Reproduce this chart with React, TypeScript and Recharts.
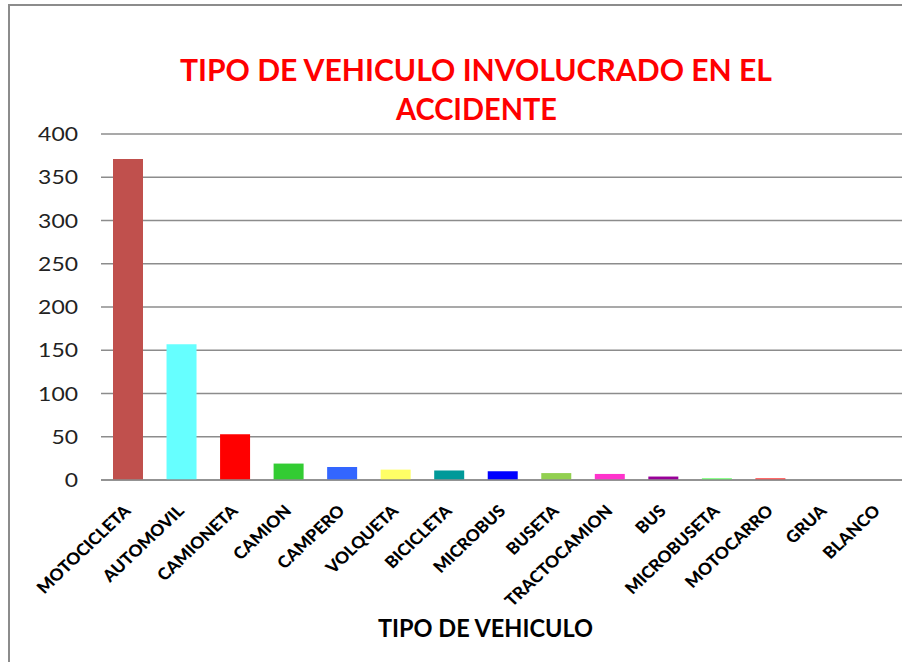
import React from 'react';
import { BarChart, Bar, XAxis, YAxis, CartesianGrid, Cell } from 'recharts';

const categories = ['MOTOCICLETA', 'AUTOMOVIL', 'CAMIONETA', 'CAMION', 'CAMPERO', 'VOLQUETA', 'BICICLETA', 'MICROBUS', 'BUSETA', 'TRACTOCAMION', 'BUS', 'MICROBUSETA', 'MOTOCARRO', 'GRUA', 'BLANCO'];
const values = [371, 157, 53, 19, 15, 12, 11, 10, 8, 7, 4, 2, 2, 0, 0];
const colors = ['#C0504D', '#66FFFF', '#FF0000', '#33CC33', '#3366FF', '#FFFF66', '#009999', '#0000FF', '#92D050', '#FF33CC', '#990099', '#66FF66', '#FF3333', '#808080', '#808080'];
const yTicks = [0, 50, 100, 150, 200, 250, 300, 350, 400];
const titleLines = ['TIPO DE VEHICULO INVOLUCRADO EN EL', 'ACCIDENTE'];
const xTitle = 'TIPO DE VEHICULO';

const data = categories.map((name, i) => ({ name, value: values[i] }));

const XTick = (props: any) => {
  const { x, y, payload } = props;
  return (
    <g transform={`translate(${x + 4},${y + 24}) scale(1.06,1) rotate(-45)`}>
      <text x={0} y={0} textAnchor="end" fontFamily="Lato" fontWeight="900" fontSize={16.5} fill="#000">
        {payload.value}
      </text>
    </g>
  );
};

const YTick = (props: any) => {
  const { x, y, payload } = props;
  return (
    <g transform={`translate(${x},${y + 7}) scale(1.24,1)`}>
      <text x={0} y={0} textAnchor="end" fontFamily="Lato" fontSize={18.5} fill="#222">
        {payload.value}
      </text>
    </g>
  );
};

export default function App() {
  return (
    <div style={{ position: 'absolute', left: 0, top: 0, width: 902, height: 662, overflow: 'hidden', background: '#fff' }}>
      <div style={{ position: 'absolute', left: 8, top: 4, width: 920, height: 700, borderLeft: '2px solid #8c8c8c', borderTop: '2px solid #8c8c8c' }} />
      <div style={{ position: 'absolute', left: 0, top: 0 }}>
        <BarChart width={904} height={662} data={data} margin={{ top: 134, right: 0, bottom: 32, left: 0 }}>
          <CartesianGrid horizontal vertical={false} stroke="#8c8c8c" strokeWidth={1.5} />
          <XAxis dataKey="name" interval={0} height={150} tickLine={false} axisLine={{ stroke: '#8c8c8c', strokeWidth: 1.5 }} tick={<XTick />} />
          <YAxis width={101} domain={[0, 400]} ticks={yTicks} tickLine={false} axisLine={false} tickMargin={17} tick={<YTick />} />
          <Bar dataKey="value" barSize={30} isAnimationActive={false}>
            {data.map((d, i) => (
              <Cell key={d.name} fill={colors[i]} />
            ))}
          </Bar>
        </BarChart>
      </div>
      <svg width={902} height={662} style={{ position: 'absolute', left: 0, top: 0, pointerEvents: 'none' }}>
        <text x={476} y={81} textAnchor="middle" fontFamily="Lato" fontWeight="bold" fontSize={30} fill="#FF0000" textLength={592} lengthAdjust="spacingAndGlyphs">
          {titleLines[0]}
        </text>
        <text x={476.5} y={120} textAnchor="middle" fontFamily="Lato" fontWeight="bold" fontSize={30} fill="#FF0000" textLength={161} lengthAdjust="spacingAndGlyphs">
          {titleLines[1]}
        </text>
        <text x={485.5} y={637} textAnchor="middle" fontFamily="Lato" fontWeight="bold" fontSize={24} fill="#000" textLength={215} lengthAdjust="spacingAndGlyphs">
          {xTitle}
        </text>
      </svg>
    </div>
  );
}
